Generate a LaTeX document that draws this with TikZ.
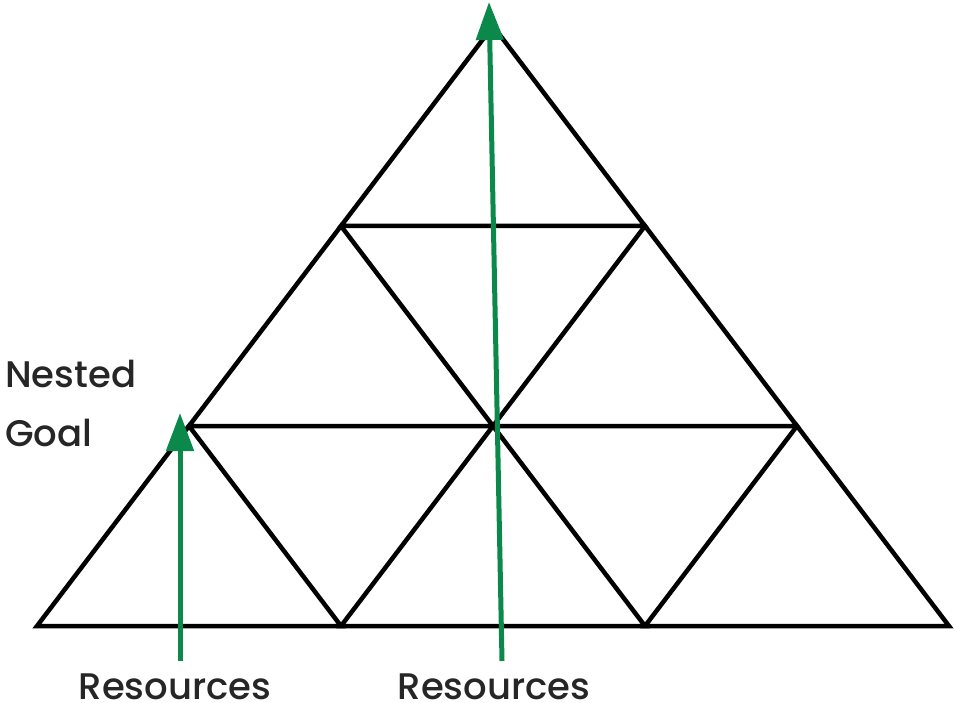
\documentclass[tikz,border=0pt]{standalone}
\usepackage{fontspec}
\setmainfont{Poppins}[UprightFont={* Medium}]
\usetikzlibrary{arrows.meta}
\definecolor{leafgreen}{RGB}{11,137,74}
\tikzset{
    edge/.style={black, line width=4.5pt},
    climb/.style={leafgreen, line width=5pt, -{Triangle[length=38pt,width=27pt]}},
    label/.style={font=\fontsize{37}{44}\selectfont, text=black!85, inner sep=0pt}
}
\begin{document}
\begin{tikzpicture}[x=1pt, y=-1pt]
        \useasboundingbox (0,0) rectangle (955,703);
        % grid corners, row r counted from the base
        \foreach \r in {0,1,2,3}{
            \pgfmathtruncatemacro{\last}{3-\r}
            \foreach \i in {0,...,\last}{
                \coordinate (v\i\r) at ({37+304*\i+152*\r},{626-200*\r});}}
        % upward triangles
        \foreach \i/\r in {0/0,1/0,2/0,0/1,1/1,0/2}{
            \pgfmathtruncatemacro{\ii}{\i+1}
            \pgfmathtruncatemacro{\rr}{\r+1}
            \draw[edge] (v\i\r) -- (v\ii\r) -- (v\i\rr) -- cycle;}
        \node[label, anchor=base west] (nested) at (5,387) {Nested};
        \node[label, anchor=base west] (goal) at (5,446) {Goal};
        \node[label, anchor=base] (resleft) at (175,699) {Resources};
        \node[label, anchor=base] (resright) at (494,699) {Resources};
        \coordinate (tipleft) at (180,413);
        \coordinate (tipright) at (489,2);
        \draw[climb] (resleft.north -| tipleft) ++(0,-12) -- (tipleft);
        \draw[climb] (502,661) -- (tipright);
    \end{tikzpicture}
\end{document}
